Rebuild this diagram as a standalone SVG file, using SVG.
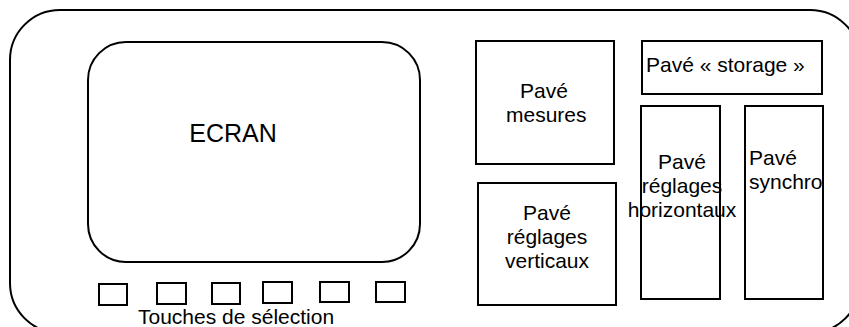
<svg xmlns="http://www.w3.org/2000/svg" width="849" height="327" viewBox="0 0 849 327">
<style>
.s{fill:none;stroke:#000;stroke-width:2}
.t{font-family:"Liberation Sans",Arial,sans-serif;font-size:21px;fill:#000}
.m{text-anchor:middle}
</style>
<rect width="849" height="327" fill="#fff"/>
<g id="boitier"><rect class="s" x="10" y="10" width="850" height="323" rx="50" ry="50"/></g>
<g id="ecran">
<rect class="s" x="88" y="42" width="332" height="220" rx="38" ry="38"/>
<text class="t" x="233" y="142" text-anchor="middle" style="font-size:25px">ECRAN</text>
</g>
<g id="touches">
<rect class="s" x="99" y="284" width="28" height="21"/>
<rect class="s" x="157" y="283" width="29" height="21"/>
<rect class="s" x="212" y="283" width="28" height="21"/>
<rect class="s" x="263" y="282" width="29" height="21"/>
<rect class="s" x="320" y="282" width="29" height="20"/>
<rect class="s" x="376" y="282" width="29" height="20"/>
<text class="t" x="138" y="324">Touches de sélection</text>
</g>
<g id="mesures">
<rect class="s" x="476" y="41" width="138" height="123"/>
<text class="t" x="520" y="98">Pavé</text>
<text class="t" x="506" y="122">mesures</text>
</g>
<g id="verticaux">
<rect class="s" x="478" y="183" width="138" height="122"/>
<text class="t m" x="547" y="220">Pavé</text>
<text class="t m" x="547" y="244">réglages</text>
<text class="t m" x="547" y="268">verticaux</text>
</g>
<g id="storage">
<rect class="s" x="642" y="41" width="180" height="53"/>
<text class="t" x="646" y="72">Pavé « storage »</text>
</g>
<g id="horizontaux">
<rect class="s" x="641" y="106" width="79" height="193"/>
<text class="t m" x="682" y="169">Pavé</text>
<text class="t m" x="682" y="193">réglages</text>
<text class="t m" x="682" y="217">horizontaux</text>
</g>
<g id="synchro">
<rect class="s" x="745" y="106" width="78" height="193"/>
<text class="t" x="749" y="165">Pavé</text>
<text class="t" x="749" y="189">synchro</text>
</g>
<g id="connecteurs"></g>
</svg>
